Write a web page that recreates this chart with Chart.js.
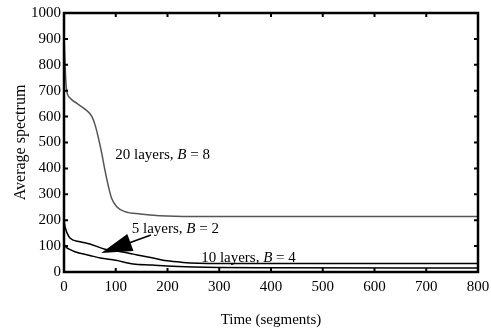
<!DOCTYPE html>
<html>
<head>
<meta charset="utf-8">
<script src="https://cdn.jsdelivr.net/npm/chart.js@4.4.0/dist/chart.umd.min.js"></script>
<style>
  html, body { margin: 0; padding: 0; background: #fff; }
  #wrap { width: 491px; height: 333px; }
</style>
</head>
<body>
<div id="wrap"><canvas id="graphe"></canvas></div>
<script>
// valeurs
var xTicks = [0, 100, 200, 300, 400, 500, 600, 700, 800];
var yTicks = [0, 100, 200, 300, 400, 500, 600, 700, 800, 900, 1000];

var x20 = [0, 1, 3, 5, 12, 25, 41, 54, 60, 66, 73, 79, 86, 92, 102, 118, 147, 185, 250, 400, 800];
var y20 = [910, 860, 760, 703, 671, 651, 628, 600, 568, 522, 458, 394, 329, 285, 252, 233, 224, 217, 214, 214, 214];

var xHaut = [0, 1, 3, 6, 12, 31, 50, 79, 100, 134, 170, 199, 230, 260, 300, 400, 800];
var yHaut = [205, 185, 168, 150, 130, 117, 108, 88, 82, 69, 55, 43, 37, 34, 33, 33, 33];

var xBas = [0, 2, 5, 10, 21, 50, 70, 100, 134, 170, 199, 250, 300, 400, 800];
var yBas = [108, 100, 94, 88, 78, 64, 54, 45, 31, 27, 23, 19, 17, 16, 15];

function points(xs, ys) {
    var out = [];
    for (var i = 0; i < xs.length; i++) {
        out.push({ x: xs[i], y: ys[i] });
    }
    return out;
}

var police = '"Liberation Serif", "Times New Roman", serif';

// cadre noir + petits traits vers l'interieur sur les 4 cotes
var cadre = {
    id: 'cadre',
    afterDraw: function (chart) {
        var c = chart.ctx;
        var a = chart.chartArea;
        var sx = chart.scales.x;
        var sy = chart.scales.y;
        c.save();
        c.strokeStyle = '#000';
        c.lineWidth = 2;
        xTicks.forEach(function (v) {
            var px = sx.getPixelForValue(v);
            c.beginPath();
            c.moveTo(px, a.bottom); c.lineTo(px, a.bottom - 4);
            c.moveTo(px, a.top); c.lineTo(px, a.top + 4);
            c.stroke();
        });
        yTicks.forEach(function (v) {
            var py = sy.getPixelForValue(v);
            c.beginPath();
            c.moveTo(a.left, py); c.lineTo(a.left + 4, py);
            c.moveTo(a.right, py); c.lineTo(a.right - 4, py);
            c.stroke();
        });
        c.lineWidth = 2.5;
        c.strokeRect(a.left, a.top, a.right - a.left, a.bottom - a.top);

        // textes des courbes
        c.fillStyle = '#000';
        c.textBaseline = 'middle';
        function txt(x, y, debut, fin) {
            var px = sx.getPixelForValue(x);
            var py = sy.getPixelForValue(y);
            c.font = '15px ' + police;
            c.fillText(debut, px, py);
            var w = c.measureText(debut).width;
            c.font = 'italic 15px ' + police;
            c.fillText('B', px + w, py);
            var wb = c.measureText('B').width;
            c.font = '15px ' + police;
            c.fillText(' = ' + fin, px + w + wb, py);
        }
        txt(99, 450, '20 layers, ', '8');
        txt(131, 165, '5 layers, ', '2');
        txt(265, 55, '10 layers, ', '4');

        // fleche
        var x1 = sx.getPixelForValue(168), y1 = sy.getPixelForValue(143);
        var x2 = sx.getPixelForValue(72), y2 = sy.getPixelForValue(73);
        var ang = Math.atan2(y2 - y1, x2 - x1);
        c.lineWidth = 1.5;
        c.beginPath();
        c.moveTo(x1, y1);
        c.lineTo(x2 + Math.cos(ang) * -20, y2 + Math.sin(ang) * -20);
        c.stroke();
        c.beginPath();
        c.moveTo(x2, y2);
        c.lineTo(x2 - Math.cos(ang) * 31 + Math.sin(ang) * 9, y2 - Math.sin(ang) * 31 - Math.cos(ang) * 9);
        c.lineTo(x2 - Math.cos(ang) * 31 - Math.sin(ang) * 9, y2 - Math.sin(ang) * 31 + Math.cos(ang) * 9);
        c.closePath();
        c.fill();
        c.restore();
    }
};

var ctx = document.getElementById('graphe');
var myChart = new Chart(ctx, {
    type: 'line',
    data: {
        datasets: [{
            label: '20 layers, B = 8',
            data: points(x20, y20),
            borderColor: '#555',
            borderWidth: 1.5
        }, {
            label: '5 layers, B = 2',
            data: points(xHaut, yHaut),
            borderColor: '#000',
            borderWidth: 1.5
        }, {
            label: '10 layers, B = 4',
            data: points(xBas, yBas),
            borderColor: '#000',
            borderWidth: 1.5
        }]
    },
    options: {
        responsive: true,
        maintainAspectRatio: false,
        animation: false,
        layout: { padding: { top: 13, right: 13, left: 0, bottom: 0 } },
        elements: {
            point: { radius: 0 },
            line: { cubicInterpolationMode: 'monotone', fill: false }
        },
        plugins: {
            legend: { display: false },
            tooltip: { enabled: false }
        },
        scales: {
            x: {
                type: 'linear',
                min: 0,
                max: 800,
                afterFit: function (s) {
                    s.height = 61;
                    s.paddingLeft = 0;
                    s.paddingRight = 0;
                },
                grid: { display: false, drawTicks: false },
                border: { display: false },
                ticks: {
                    stepSize: 100,
                    padding: 6,
                    color: '#000',
                    font: { family: police, size: 15 }
                },
                title: {
                    display: true,
                    text: 'Time (segments)',
                    color: '#000',
                    padding: { top: 16 },
                    font: { family: police, size: 15 }
                }
            },
            y: {
                min: 0,
                max: 1000,
                afterFit: function (s) {
                    s.width = 64;
                    s.paddingTop = 0;
                    s.paddingBottom = 0;
                },
                grid: { display: false, drawTicks: false },
                border: { display: false },
                ticks: {
                    stepSize: 100,
                    padding: 3,
                    color: '#000',
                    font: { family: police, size: 15 },
                    callback: function (v) { return String(v); }
                },
                title: {
                    display: true,
                    text: 'Average spectrum',
                    color: '#000',
                    padding: { top: 11, bottom: 0 },
                    font: { family: police, size: 16 }
                }
            }
        }
    },
    plugins: [cadre]
});
</script>
</body>
</html>
